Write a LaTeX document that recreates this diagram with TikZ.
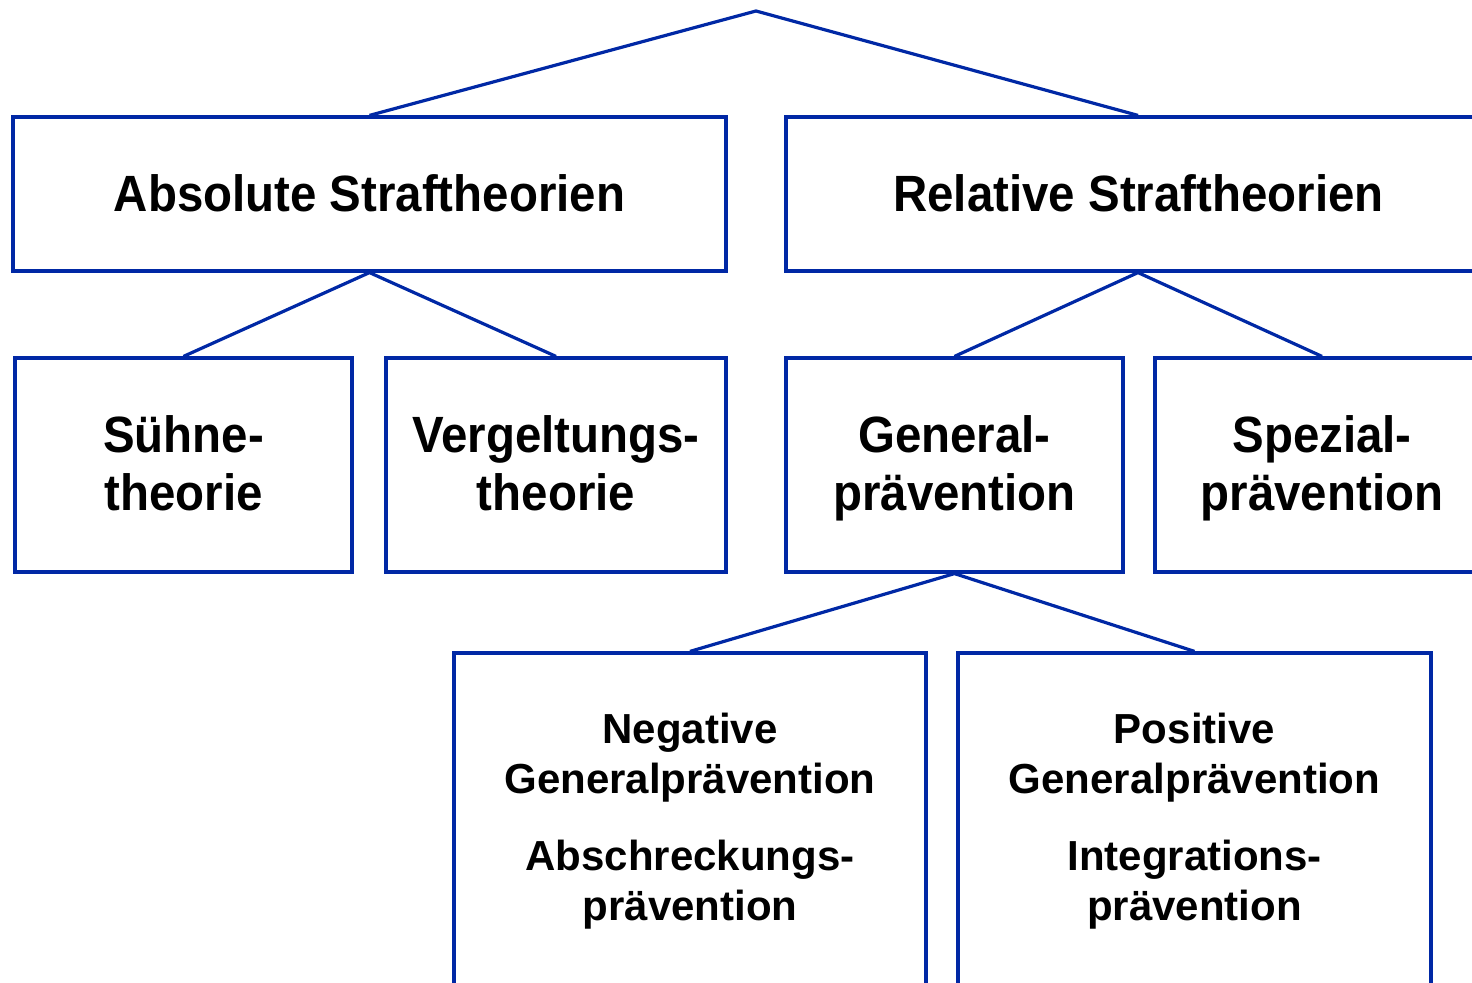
\documentclass[tikz,border=0pt]{standalone}
\usepackage{fontspec}
\setmainfont{Liberation Sans}
\newfontfamily\bigfont[FakeStretch=0.93]{Liberation Sans}
\definecolor{lineblue}{RGB}{0,40,165}
\begin{document}
\begin{tikzpicture}[x=0.5pt,y=-0.5pt,
  box/.style={draw=lineblue,line width=1.6pt,rectangle,inner sep=0pt,minimum height=#1},
  conn/.style={draw=lineblue,line width=1.6pt},
  bigtxt/.style={font=\bigfont\bfseries\fontsize{25.5pt}{29pt}\selectfont,align=center,anchor=base,inner sep=0pt},
  smalltxt/.style={font=\bfseries\fontsize{21pt}{25pt}\selectfont,align=center,anchor=base,inner sep=0pt}]
\useasboundingbox (0,0) rectangle (1472,983);
\clip (0,0) rectangle (1472,983);
\coordinate (top) at (756,11);
\node[box=77pt,minimum width=356.5pt] (abs) at (369.5,194) {};
\node[box=77pt,minimum width=352pt] (rel) at (1138,194) {};
\node[box=107pt,minimum width=168.5pt] (suehne) at (183.5,465) {};
\node[box=107pt,minimum width=170pt] (vergelt) at (556,465) {};
\node[box=107pt,minimum width=168.5pt] (general) at (954.5,465) {};
\node[box=107pt,minimum width=167pt] (spezial) at (1322,465) {};
\node[box=178.5pt,minimum width=236pt] (neg) at (690,831.5) {};
\node[box=178.5pt,minimum width=236.5pt] (pos) at (1194.5,831.5) {};
\draw[conn] (abs.north) -- (top) -- (rel.north);
\draw[conn] (suehne.north) -- (abs.south) -- (vergelt.north);
\draw[conn] (general.north) -- (rel.south) -- (spezial.north);
\draw[conn] (neg.north) -- (general.south) -- (pos.north);
\node[bigtxt] (tabs) at (369.5,212) {Absolute Straftheorien};
\node[bigtxt] (trel) at (1138.5,212) {Relative Straftheorien};
\node[bigtxt] (tsuehne) at (183.5,511) {Sühne-\\theorie};
\node[bigtxt] (tvergelt) at (556,511) {Vergeltungs-\\theorie};
\node[bigtxt] (tgeneral) at (954.5,511) {General-\\prävention};
\node[bigtxt] (tspezial) at (1322,511) {Spezial-\\prävention};
\node[smalltxt] (tneg) at (690,920) {Negative\\Generalprävention\\[13.5pt]Abschreckungs-\\prävention};
\node[smalltxt] (tpos) at (1194.5,920) {Positive\\Generalprävention\\[13.5pt]Integrations-\\prävention};
\end{tikzpicture}
\end{document}
